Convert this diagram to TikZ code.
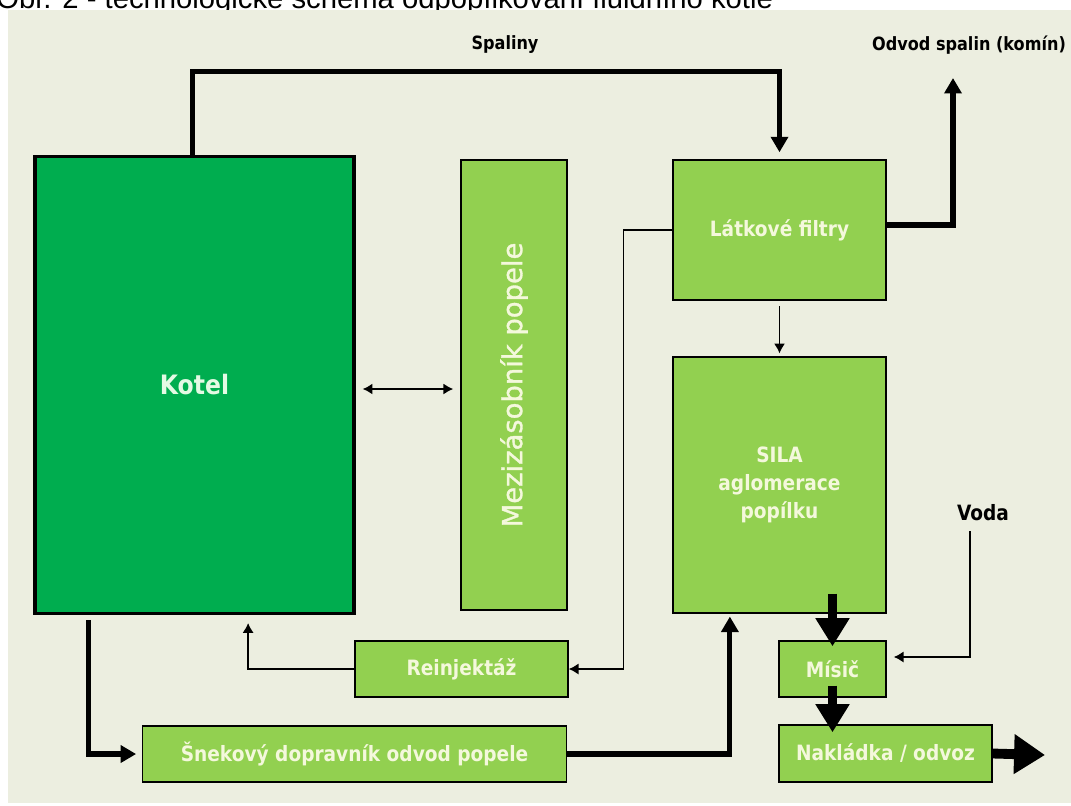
\documentclass[tikz,border=0pt]{standalone}
\usepackage{fontspec}
\setmainfont{DejaVu Sans}
\newfontfamily\boxfont[FakeStretch=0.88]{DejaVu Sans}
\newfontfamily\midfont[FakeBold=1.2]{DejaVu Sans}
\newfontfamily\capfont{Liberation Sans}
\usetikzlibrary{arrows.meta,positioning}
\definecolor{panel}{HTML}{ECEEE0}
\definecolor{kotelgreen}{HTML}{00AD4F}
\definecolor{boxgreen}{HTML}{92D050}
\definecolor{boxtext}{HTML}{F4F8DC}
\definecolor{koteltext}{HTML}{E4FAE4}

\begin{document}
\begin{tikzpicture}[
    x=0.025cm, y=-0.025cm,
    >={Latex[length=7pt,width=8pt]},
    box/.style={draw, fill=boxgreen, line width=1pt, inner sep=0pt, text=boxtext,
        font=\boxfont\bfseries\fontsize{15pt}{20pt}\selectfont, align=center},
    tag/.style={inner sep=0pt, font=\boxfont\bfseries\fontsize{13pt}{16pt}\selectfont},
    flow/.style={->, line width=1.1pt},
    flue/.style={line width=3.6pt, -{Triangle[length=11pt,width=12pt]}},
    bulk/.style={line width=7pt, -{Triangle[length=20pt,width=23pt]}}
]
    \useasboundingbox (0,0) rectangle (1071,805);
    \clip (0,0) rectangle (1071,805);

    % Caption and background
    \fill[white] (0,0) rectangle (1071,805);
    \node[anchor=base west, inner sep=0pt, font=\capfont\fontsize{20.8pt}{24pt}\selectfont] (caption) at (-4,8)
        {Obr. 2 - technologické schéma odpopílkování fluidního kotle};
    \fill[panel] (8,10) rectangle (1071,803);

    % Boxes
    \node[box, fill=kotelgreen, line width=2.2pt, text=koteltext,
        font=\boxfont\bfseries\fontsize{19pt}{22pt}\selectfont,
        minimum width=7.975cm, minimum height=11.4cm] (kotel) at (194.5,385) {Kotel};
    \node[box, rotate=90, font=\midfont\fontsize{19.5pt}{22pt}\selectfont,
        minimum width=11.25cm, minimum height=2.65cm] (zasobnik) at (514,385) {Mezizásobník popele};
    \node[box, minimum width=5.325cm, minimum height=3.5cm] (filtry) at (779.5,230) {Látkové filtry};
    \node[box, minimum width=5.325cm, minimum height=6.4cm] (sila) at (779.5,485) {SILA\\aglomerace\\popílku};
    \node[box, minimum width=2.675cm, minimum height=1.4cm] (misic) at (832.5,669) {Mísič};
    \node[box, minimum width=5.325cm, minimum height=1.425cm] (nakladka) at (885.5,753.5) {Nakládka~/~odvoz};
    \node[box, minimum width=5.325cm, minimum height=1.4cm] (reinj) at (461.5,669) {Reinjektáž};
    \node[box, minimum width=10.6cm, minimum height=1.4cm] (snek) at (354.5,754) {Šnekový dopravník odvod popele};

    % Labels
    \node[tag] (spaliny) at (505,45) {Spaliny};
    \node[tag] (odvod) at (969,45) {Odvod spalin (komín)};
    \node[tag, font=\boxfont\bfseries\fontsize{15pt}{18pt}\selectfont] (voda) at (983,513) {Voda};

    \coordinate (komin) at (953,78);
    \coordinate (ven) at (1045,755);
    \coordinate (silaout) at (sila.south -| misic.north);
    \coordinate (nakin) at (misic.south |- nakladka.north);

    % Flue gas
    \draw[flue, shorten >=5pt] ([xshift=-0.04cm]kotel.north) -- ++(0,-84) -| (filtry.north);
    \draw[flue] ([yshift=0.125cm]filtry.east) -| (komin);

    % Ash loop
    \draw[<->, line width=1.4pt, shorten <=5pt, shorten >=5pt] ([yshift=-0.1cm]kotel.east) -- ([yshift=-0.1cm]zasobnik.north);
    \draw[flow, line width=1.4pt, shorten <=4pt, shorten >=2pt] (filtry.south) -- (sila.north);
    \draw[flow] (filtry.west) -- ++(-49,0) |- (reinj.east);
    \draw[flow, shorten >=6pt] (reinj.west) -| ([xshift=1.34cm]kotel.south);
    \draw[flue, shorten <=4pt, shorten >=4pt] ([xshift=-2.64cm]kotel.south) |- (snek.west);
    \draw[flue, shorten >=2pt] (snek.east) -| ([xshift=-1.24cm]sila.south);

    % Mixing and loading
    \draw[bulk] ([yshift=0.5cm]silaout) -- ([yshift=-0.15cm]misic.north);
    \draw[bulk] ([yshift=0.3cm]misic.south) -- ([yshift=-0.2cm]nakin);
    \draw[bulk, -{Triangle[length=22pt,width=27pt]}] (nakladka.east) -- (ven);
    \draw[flow, shorten >=5pt] ([xshift=-0.325cm,yshift=-0.25cm]voda.south) |- ([yshift=0.3cm]misic.east);
\end{tikzpicture}
\end{document}
